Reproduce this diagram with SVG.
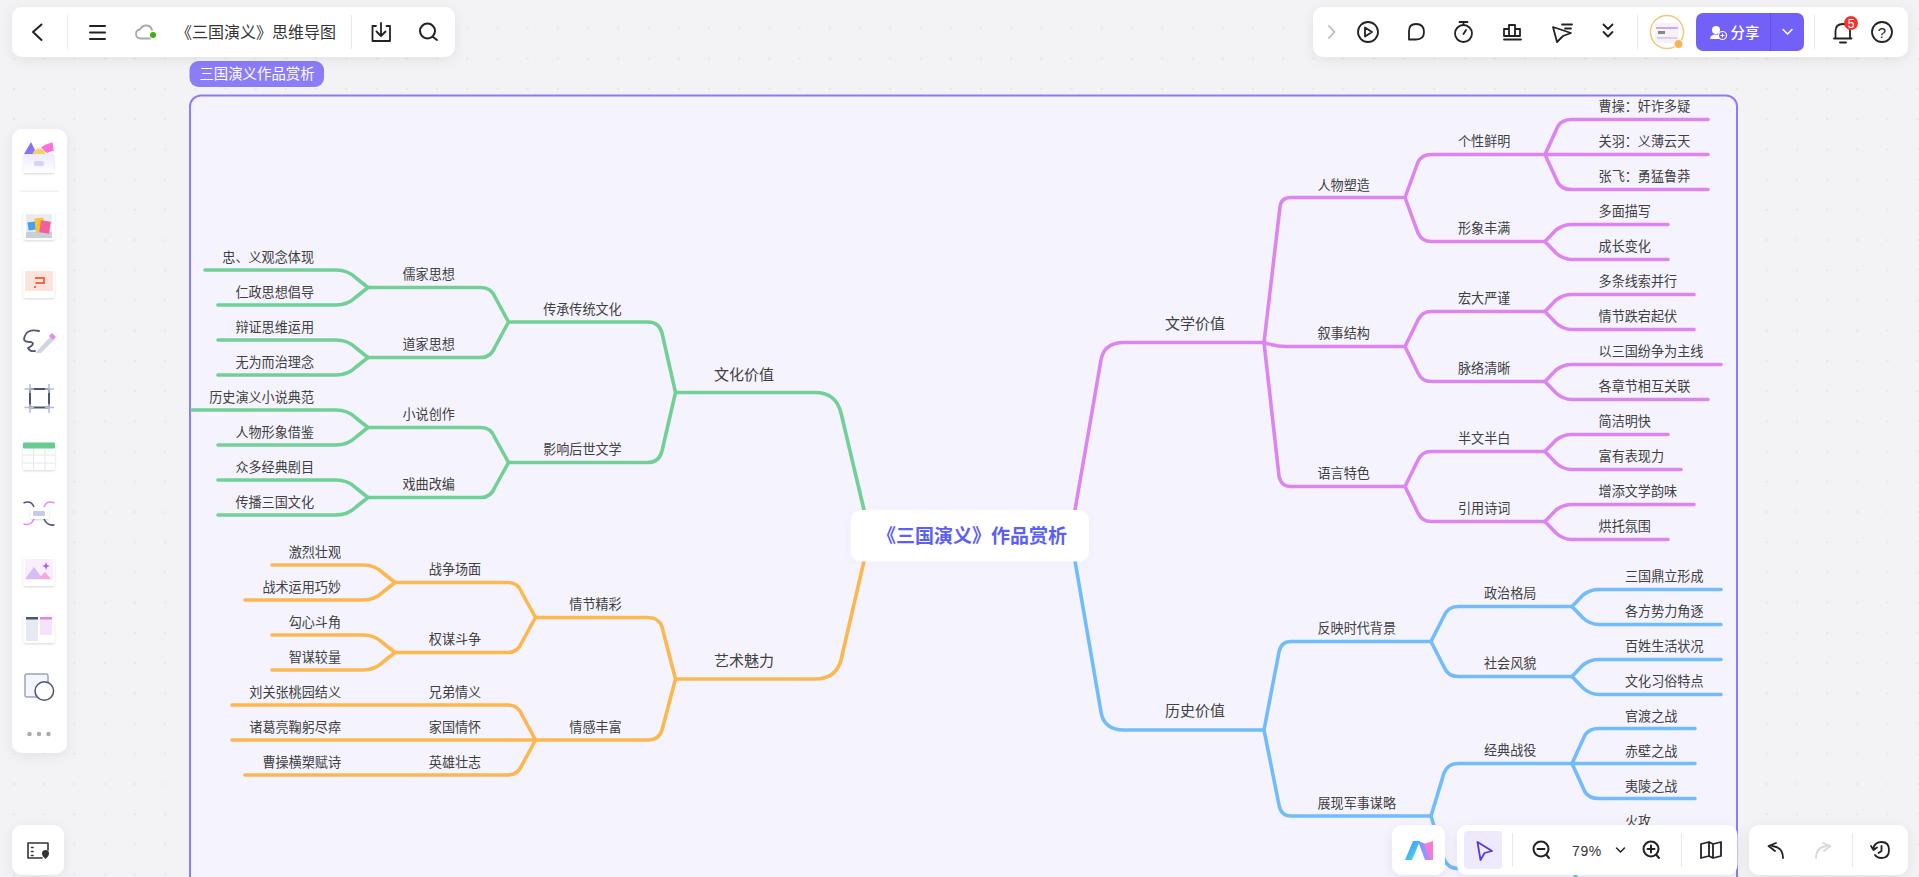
<svg xmlns="http://www.w3.org/2000/svg" width="1919" height="877" viewBox="0 0 1919 877">
<defs>
<style>
text{font-family:"Noto Sans CJK SC","Noto Sans",sans-serif;fill:#404040}
.t1{font-size:15px}
.t2{font-size:13.1px}
.m{text-anchor:middle}
.e{text-anchor:end}
.s{text-anchor:start}
.c{fill:none;stroke-width:3.6;stroke-linecap:round;stroke-linejoin:round}
.g{stroke:#72d096}
.o{stroke:#fdb74f}
.p{stroke:#dd85ee}
.b{stroke:#72bcfb}
.panel{fill:#fff;filter:url(#sh)}
.ic{fill:none;stroke:#222;stroke-width:1.8;stroke-linecap:round;stroke-linejoin:round}
.icg{fill:none;stroke:#bbb;stroke-width:1.8;stroke-linecap:round;stroke-linejoin:round}
.dv{stroke:#e8e8ec;stroke-width:1}
.card{fill:#fff;filter:url(#sh2)}
.sl{fill:none;stroke:#4d5478;stroke-linecap:round;stroke-linejoin:round}
</style>
<filter id="sh" x="-20%" y="-40%" width="140%" height="200%"><feDropShadow dx="0" dy="3" stdDeviation="6" flood-color="#000" flood-opacity="0.07"/></filter>
<filter id="sh2" x="-20%" y="-20%" width="140%" height="150%"><feDropShadow dx="0" dy="1" stdDeviation="1.2" flood-color="#000" flood-opacity="0.16"/></filter>
<filter id="sh3" x="-10%" y="-20%" width="120%" height="150%"><feDropShadow dx="0" dy="1" stdDeviation="4" flood-color="#6a60d0" flood-opacity="0.06"/></filter>
<pattern id="dots" x="13" y="27.5" width="30.22" height="30.22" patternUnits="userSpaceOnUse"><circle cx="1" cy="1" r="0.8" fill="#d8d8de"/></pattern>
<linearGradient id="box" x1="0" y1="0" x2="0" y2="1"><stop offset="0" stop-color="#ecebfd"/><stop offset="1" stop-color="#fff"/></linearGradient>
<linearGradient id="lg1" x1="0" y1="0" x2="1" y2="1"><stop offset="0" stop-color="#3a8bff"/><stop offset="1" stop-color="#4fe8d8"/></linearGradient>
<linearGradient id="lg2" x1="0" y1="0" x2="1" y2="1"><stop offset="0" stop-color="#6aa0ff"/><stop offset="1" stop-color="#b98cf8"/></linearGradient>
</defs>

<rect width="1919" height="877" fill="#f3f3f6"/>
<rect width="1919" height="877" fill="url(#dots)"/>

<g id="frame">
<rect x="190" y="95.5" width="1547" height="800" rx="11" fill="#f5f4fe" stroke="#8b7cf8" stroke-width="2"/>
<rect x="189.500" y="61" width="134.500" height="26" rx="9" fill="#8b7cf8"/>
<text x="257" y="79" class="m" style="fill:#fff;font-size:14.4px">三国演义作品赏析</text>
</g>

<g id="connectors">
<!-- green -->
<path class="c g" d="M864 510L841 413Q836 392.500 815 392.500H675.500M675.500 392.500L662 333Q659 322 648 322H508.500M675.500 392.500L662 451Q659 462.500 648 462.500H508.500"/>
<path class="c g" d="M508.500 322L495 297Q491 287.500 481 287.500H368M508.500 322L495 347Q491 357.500 481 357.500H368M508.500 462.500L495 438Q491 427.500 481 427.500H368M508.500 462.500L495 487Q491 497.500 481 497.500H368"/>
<path class="c g" d="M368 287.500L356 278Q348 270 336 270H205M368 287.500L356 297Q348 305 336 305H218M368 357.500L356 348Q348 340 336 340H218M368 357.500L356 367Q348 375 336 375H218M368 427.500L356 418Q348 410 336 410H192M368 427.500L356 437Q348 445 336 445H218M368 497.500L356 488Q348 480 336 480H218M368 497.500L356 507Q348 515 336 515H218"/>
<!-- orange -->
<path class="c o" d="M864 561L841 660Q836 679 815 679H675.500M675.500 679L662 627Q659 617.500 648 617.500H535.500M675.500 679L662 730Q659 740 648 740H535.500"/>
<path class="c o" d="M535.500 617.500L522 593Q518 582.500 508 582.500H395M535.500 617.500L522 642Q518 652.500 508 652.500H395"/>
<path class="c o" d="M395 582.500L383 573Q375 565 363 565H272M395 582.500L383 592Q375 600 363 600H245M395 652.500L383 643Q375 635 363 635H272M395 652.500L383 662Q375 670 363 670H272"/>
<path class="c o" d="M535.500 740L522 715Q518 705 508 705H232M535.500 740H232M535.500 740L522 765Q518 775 508 775H245"/>
<!-- pink -->
<path class="c p" d="M1075 510L1101 360Q1104 342.500 1124 342.500H1264M1264 342.500L1280 207Q1281 197.500 1291 197.500H1405M1264 342.500Q1276 346.500 1286 346.500H1405M1264 342.500L1279 476Q1281 486.500 1291 486.500H1405"/>
<path class="c p" d="M1405 197.500L1418 162Q1422 154.500 1431 154.500H1545M1405 197.500L1418 233Q1422 241.500 1431 241.500H1545M1405 346.500L1418 320Q1422 311.500 1431 311.500H1545M1405 346.500L1418 373Q1422 381.500 1431 381.500H1545M1405 486.500L1418 460Q1422 451.500 1431 451.500H1545M1405 486.500L1418 513Q1422 521.500 1431 521.500H1545"/>
<path class="c p" d="M1545 154.500L1558 126Q1562 119.500 1572 119.500H1708M1545 154.500H1708M1545 154.500L1558 183Q1562 189.500 1572 189.500H1708"/>
<path class="c p" d="M1545 241.500L1556 230Q1563 224.500 1572 224.500H1668M1545 241.500L1556 253Q1563 259.500 1572 259.500H1668M1545 311.500L1556 300Q1563 294.500 1572 294.500H1694M1545 311.500L1556 323Q1563 329.500 1572 329.500H1694M1545 381.500L1556 370Q1563 364.500 1572 364.500H1721M1545 381.500L1556 393Q1563 399.500 1572 399.500H1708M1545 451.500L1556 440Q1563 434.500 1572 434.500H1668M1545 451.500L1556 463Q1563 469.500 1572 469.500H1681M1545 521.500L1556 510Q1563 504.500 1572 504.500H1694M1545 521.500L1556 533Q1563 539.500 1572 539.500H1668"/>
<!-- blue -->
<path class="c b" d="M1075 561L1101 712Q1104 730 1124 730H1264M1264 730L1279 652Q1281 641.500 1291 641.500H1431M1264 730L1279 805Q1281 816 1291 816H1431"/>
<path class="c b" d="M1431 641.500L1444 616Q1448 606.500 1458 606.500H1572M1431 641.500L1444 667Q1448 676.500 1458 676.500H1572M1431 816L1444 773Q1448 763.500 1458 763.500H1572M1431 816L1444 859Q1448 868.500 1458 868.500H1572"/>
<path class="c b" d="M1572 606.500L1583 595Q1590 589.500 1599 589.500H1721M1572 606.500L1583 618Q1590 624.500 1599 624.500H1721M1572 676.500L1583 665Q1590 659.500 1599 659.500H1721M1572 676.500L1583 688Q1590 694.500 1599 694.500H1721"/>
<path class="c b" d="M1572 763.500L1585 735Q1589 728.500 1599 728.500H1695M1572 763.500H1695M1572 763.500L1585 792Q1589 798.500 1599 798.500H1695M1572 868.500L1585 840Q1589 833.500 1599 833.500H1695M1572 868.500L1585 897Q1589 903.500 1599 903.500H1695"/>
</g>

<g id="root"><rect x="850.500" y="510" width="238.500" height="51.500" rx="10.500" fill="#fff" style="filter:url(#sh3)"/><text x="972" y="543" class="m" style="fill:#5b5ff5;font-size:19px;font-weight:700">《三国演义》作品赏析</text></g>

<g id="n-wenhua"><text x="744" y="379.500" class="t1 m">文化价值</text></g>
<g id="n-yishu"><text x="744" y="665.500" class="t1 m">艺术魅力</text></g>
<g id="n-wenxue"><text x="1195" y="329" class="t1 m">文学价值</text></g>
<g id="n-lishi"><text x="1195" y="716" class="t1 m">历史价值</text></g>

<g id="n-cc"><text x="621.700" y="314" class="t2 e">传承传统文化</text></g>
<g id="n-yx"><text x="621.700" y="454" class="t2 e">影响后世文学</text></g>
<g id="n-qj"><text x="621.700" y="609" class="t2 e">情节精彩</text></g>
<g id="n-qg"><text x="621.700" y="731.500" class="t2 e">情感丰富</text></g>

<g id="n-rj"><text x="428.700" y="279" class="t2 m">儒家思想</text></g>
<g id="n-dj"><text x="428.700" y="349" class="t2 m">道家思想</text></g>
<g id="n-xs"><text x="428.700" y="419" class="t2 m">小说创作</text></g>
<g id="n-xq"><text x="428.700" y="489" class="t2 m">戏曲改编</text></g>
<g id="n-zz"><text x="455" y="574" class="t2 m">战争场面</text></g>
<g id="n-qm"><text x="455" y="644" class="t2 m">权谋斗争</text></g>
<g id="n-xd"><text x="455" y="696.500" class="t2 m">兄弟情义</text></g>
<g id="n-jg"><text x="455" y="731.500" class="t2 m">家国情怀</text></g>
<g id="n-yy"><text x="455" y="766.500" class="t2 m">英雄壮志</text></g>

<g id="l-1"><text x="314" y="261.500" class="t2 e">忠、义观念体现</text></g>
<g id="l-2"><text x="314" y="296.500" class="t2 e">仁政思想倡导</text></g>
<g id="l-3"><text x="314" y="331.500" class="t2 e">辩证思维运用</text></g>
<g id="l-4"><text x="314" y="366.500" class="t2 e">无为而治理念</text></g>
<g id="l-5"><text x="314" y="401.500" class="t2 e">历史演义小说典范</text></g>
<g id="l-6"><text x="314" y="436.500" class="t2 e">人物形象借鉴</text></g>
<g id="l-7"><text x="314" y="471.500" class="t2 e">众多经典剧目</text></g>
<g id="l-8"><text x="314" y="506.500" class="t2 e">传播三国文化</text></g>
<g id="l-9"><text x="341" y="556.500" class="t2 e">激烈壮观</text></g>
<g id="l-10"><text x="341" y="591.500" class="t2 e">战术运用巧妙</text></g>
<g id="l-11"><text x="341" y="626.500" class="t2 e">勾心斗角</text></g>
<g id="l-12"><text x="341" y="661.500" class="t2 e">智谋较量</text></g>
<g id="l-13"><text x="341" y="696.500" class="t2 e">刘关张桃园结义</text></g>
<g id="l-14"><text x="341" y="731.500" class="t2 e">诸葛亮鞠躬尽瘁</text></g>
<g id="l-15"><text x="341" y="766.500" class="t2 e">曹操横槊赋诗</text></g>

<g id="n-rw"><text x="1317.500" y="189.500" class="t2 s">人物塑造</text></g>
<g id="n-xs2"><text x="1317.500" y="338" class="t2 s">叙事结构</text></g>
<g id="n-yy2"><text x="1317.500" y="478" class="t2 s">语言特色</text></g>
<g id="n-fy"><text x="1317.500" y="633" class="t2 s">反映时代背景</text></g>
<g id="n-zx"><text x="1317.500" y="807.500" class="t2 s">展现军事谋略</text></g>

<g id="n-gx"><text x="1458" y="146" class="t2 s">个性鲜明</text></g>
<g id="n-xx"><text x="1458" y="233" class="t2 s">形象丰满</text></g>
<g id="n-hd"><text x="1458" y="303" class="t2 s">宏大严谨</text></g>
<g id="n-ml"><text x="1458" y="373" class="t2 s">脉络清晰</text></g>
<g id="n-bw"><text x="1458" y="443" class="t2 s">半文半白</text></g>
<g id="n-yh"><text x="1458" y="513" class="t2 s">引用诗词</text></g>
<g id="n-zg"><text x="1484" y="598" class="t2 s">政治格局</text></g>
<g id="n-sh"><text x="1484" y="668" class="t2 s">社会风貌</text></g>
<g id="n-jd"><text x="1484" y="755" class="t2 s">经典战役</text></g>

<g id="r-1"><text x="1598.600" y="111" class="t2 s">曹操：奸诈多疑</text></g>
<g id="r-2"><text x="1598.600" y="146" class="t2 s">关羽：义薄云天</text></g>
<g id="r-3"><text x="1598.600" y="181" class="t2 s">张飞：勇猛鲁莽</text></g>
<g id="r-4"><text x="1598.600" y="216" class="t2 s">多面描写</text></g>
<g id="r-5"><text x="1598.600" y="251" class="t2 s">成长变化</text></g>
<g id="r-6"><text x="1598.600" y="286" class="t2 s">多条线索并行</text></g>
<g id="r-7"><text x="1598.600" y="321" class="t2 s">情节跌宕起伏</text></g>
<g id="r-8"><text x="1598.600" y="356" class="t2 s">以三国纷争为主线</text></g>
<g id="r-9"><text x="1598.600" y="391" class="t2 s">各章节相互关联</text></g>
<g id="r-10"><text x="1598.600" y="426" class="t2 s">简洁明快</text></g>
<g id="r-11"><text x="1598.600" y="461" class="t2 s">富有表现力</text></g>
<g id="r-12"><text x="1598.600" y="496" class="t2 s">增添文学韵味</text></g>
<g id="r-13"><text x="1598.600" y="531" class="t2 s">烘托氛围</text></g>
<g id="r-14"><text x="1625" y="581" class="t2 s">三国鼎立形成</text></g>
<g id="r-15"><text x="1625" y="616" class="t2 s">各方势力角逐</text></g>
<g id="r-16"><text x="1625" y="651" class="t2 s">百姓生活状况</text></g>
<g id="r-17"><text x="1625" y="686" class="t2 s">文化习俗特点</text></g>
<g id="r-18"><text x="1625" y="720.500" class="t2 s">官渡之战</text></g>
<g id="r-19"><text x="1625" y="755.500" class="t2 s">赤壁之战</text></g>
<g id="r-20"><text x="1625" y="790.500" class="t2 s">夷陵之战</text></g>
<g id="r-21"><text x="1625" y="825.500" class="t2 s">火攻</text></g>

<!-- top-left toolbar -->
<g id="tb-top-left">
<rect class="panel" x="12" y="7" width="443" height="50" rx="10"/>
<path class="ic" style="stroke-width:2" d="M41.500 24.500L33 32L41.500 40"/>
<line class="dv" x1="67.500" y1="15" x2="67.500" y2="49"/>
<path class="ic" style="stroke-width:2" d="M90 26H105M90 32.500H105M90 39H105"/>
<path fill="none" stroke="#aaa" stroke-width="1.800" stroke-linecap="round" d="M150 38.500H141Q136 38.500 136 34Q136 30 140 29.500Q142 25.500 146 25.500Q151 25.500 152 30"/>
<circle cx="153" cy="35" r="3" fill="#3fb011"/>
<text x="256" y="38" class="m" style="font-size:16px;fill:#333">《三国演义》思维导图</text>
<line class="dv" x1="351.500" y1="15" x2="351.500" y2="49"/>
<path class="ic" d="M376 26H372.500V41H390V26H386.500M381 23V35.500M376.500 31.500L381 36L385.500 31.500"/>
<circle class="ic" style="stroke-width:2" cx="427.500" cy="31" r="7.500"/><path class="ic" style="stroke-width:2" d="M433 37L437 40"/>
</g>

<!-- top-right toolbar -->
<g id="tb-top-right">
<rect class="panel" x="1313" y="7" width="595" height="50" rx="10"/>
<path class="icg" d="M1329 26L1334.500 32L1329 38"/>
<circle class="ic" cx="1368" cy="32" r="10"/><path class="ic" d="M1365 27.500L1372 32L1365 36.500Z"/>
<path class="ic" d="M1409 39.500V31Q1409 24 1416 24Q1424 24 1424 32Q1424 39.500 1416 39.500Z"/>
<circle class="ic" cx="1463.500" cy="33.500" r="8.500"/><path class="ic" d="M1459.500 22H1467.500M1463.500 22V25M1463.500 34L1466 30"/>
<path class="ic" d="M1504 39.500H1521M1504 36V29H1509V36M1509 36V25H1515V36M1515 36V29H1520V36H1504"/>
<path class="ic" d="M1553 27L1571 33L1563 36L1557 42Z M1562 24.500H1572M1565 28.500H1571"/>
<path class="ic" d="M1603.500 24.500L1608 29L1612.500 24.500M1603.500 32L1608 36.500L1612.500 32"/>
<line class="dv" x1="1637.500" y1="15" x2="1637.500" y2="49"/>
<circle cx="1667" cy="32" r="16.500" fill="#fff" stroke="#f3c77a" stroke-width="1.500"/>
<rect x="1655" y="23" width="24" height="20" rx="2" fill="#f4f3f8"/><rect x="1656" y="27" width="22" height="2" fill="#cda8f0"/><rect x="1657" y="37" width="20" height="2" fill="#e2c8f5"/><rect x="1658" y="31" width="7" height="3" fill="#888"/>
<circle cx="1678.500" cy="44" r="4.500" fill="#f6b455" stroke="#fff" stroke-width="1"/>
<rect x="1696" y="13" width="108" height="38" rx="7" fill="#7260f9"/>
<line x1="1770.500" y1="13" x2="1770.500" y2="51" stroke="#6550e0"/>
<circle cx="1716" cy="30" r="4" fill="#fff"/><path d="M1710 39Q1710 34.500 1716 34.500Q1719 34.500 1720 36L1719 39Z" fill="#fff"/><circle cx="1722.500" cy="35.500" r="4" fill="#7260f9" stroke="#fff" stroke-width="1.200"/><path d="M1720.500 35.500H1724.500M1722.500 33.500V37.500" stroke="#fff" stroke-width="1"/>
<text x="1745" y="38" class="m" style="fill:#fff;font-size:14.400px;font-weight:500">分享</text>
<path d="M1783 29.500L1787.500 34L1792 29.500" fill="none" stroke="#fff" stroke-width="1.600" stroke-linecap="round" stroke-linejoin="round"/>
<line class="dv" x1="1814.500" y1="15" x2="1814.500" y2="49"/>
<path class="ic" d="M1835.500 38V31Q1835.500 24 1843 24Q1850 24 1850 31V38M1834 38.500H1851.500M1840 42.500H1846"/>
<circle cx="1851" cy="23" r="7" fill="#f0352f"/>
<text x="1851" y="27.500" class="m" style="fill:#fff;font-size:12px;font-family:'Liberation Sans',sans-serif">5</text>
<circle class="ic" cx="1882" cy="32" r="10"/>
<text x="1882" y="37.500" class="m" style="font-size:15px;fill:#222;font-family:'Liberation Sans',sans-serif">?</text>
</g>

<!-- left toolbar -->
<g id="tb-left">
<rect class="panel" x="12" y="129" width="55" height="624" rx="10"/>
<g id="ic-box">
<path d="M24 154L31 142L37 154Z" fill="#8a72f5"/><path d="M45 145L52 142L54 150L47 153L41 148Z" fill="#ff6fd8" transform="rotate(5 48 148)"/><circle cx="39" cy="155" r="6.500" fill="#fbcf6a"/>
<rect class="card" x="23.500" y="154" width="30.500" height="19" rx="1.500" style="fill:url(#box)"/><rect x="34" y="161" width="10" height="5" rx="2" fill="#d6d4f5"/>
</g>
<line class="dv" x1="20" y1="191" x2="59" y2="191"/>
<g id="ic-cards"><rect class="card" x="23.500" y="211" width="31" height="29" rx="2"/><rect x="26" y="214" width="26" height="24" fill="#e9ebf3"/><rect x="26" y="232" width="26" height="6" fill="#c9cedd"/><rect x="28" y="222" width="9" height="8" fill="#3fa2f5" transform="rotate(-8 32 226)"/><rect x="35" y="218" width="9" height="14" fill="#fbc430" transform="rotate(-6 40 224)"/><rect x="40" y="221" width="10" height="12" fill="#f0609a" transform="rotate(8 45 227)"/></g>
<g id="ic-ppt"><rect class="card" x="23.500" y="269" width="31" height="29" rx="2"/><rect x="25" y="271" width="28" height="20" fill="#fde3de"/><path d="M35 278H44V283H35.500M35 288V286" fill="none" stroke="#f56a3c" stroke-width="2"/></g>
<g id="ic-pen"><path class="sl" style="stroke-width:1.800" d="M39 331Q26 328 24 339Q24 342 31 342Q36 344 28 348Q30 352 35 351"/><path d="M38 350L52 335L55 339L41 353L36 353Z" fill="#cfd3e2"/><path d="M49 336L52 333L56 337L53 340Z" fill="#e58bf0"/></g>
<g id="ic-frame"><rect x="30" y="389" width="19" height="18.500" fill="none" stroke="#4d5478" stroke-width="2"/><path d="M30 384V393M49 384V393M30 404V413M49 404V413M24.500 389H34M45 389H54M24.500 407.500H34M45 407.500H54" stroke="#b6bbcf" stroke-width="1.500"/></g>
<g id="ic-table"><rect class="card" x="23" y="442.500" width="32" height="27.500" rx="2"/><rect x="23" y="442.500" width="32" height="6" rx="1" fill="#66cc92"/><path d="M23 455H55M23 463H55M33.500 449V470M45 449V470" stroke="#e4e6ee" stroke-width="1"/></g>
<g id="ic-conn"><path d="M23.500 503Q31 500 34 507" fill="none" stroke="#4d5478" stroke-width="1.500"/><path d="M23.500 524Q31 526 34 519" fill="none" stroke="#e58bf0" stroke-width="1.500"/><path d="M54.500 503Q47 500 44 507" fill="none" stroke="#e58bf0" stroke-width="1.500"/><path d="M54.500 525Q47 526 44 519" fill="none" stroke="#4d5478" stroke-width="1.500"/><rect class="card" x="30" y="508" width="19" height="11" rx="2"/><rect x="33" y="511" width="12" height="5" rx="1" fill="#c9cce0"/></g>
<g id="ic-img"><rect class="card" x="23.500" y="557" width="31" height="29" rx="2"/><rect x="25" y="559" width="28" height="21" fill="#f8eefc"/><path d="M25 579L34 567L43 579Z" fill="#d3bef6"/><path d="M38 579L45 572L51 579Z" fill="#f6a8d8"/><path d="M46 562L47 565L50 566L47 567L46 570L45 567L42 566L45 565Z" fill="#a55bf0"/></g>
<g id="ic-layout"><rect class="card" x="23.500" y="614" width="31" height="29" rx="2"/><rect x="26" y="617" width="12" height="24" fill="#e6e9f1"/><rect x="26" y="617" width="12" height="2.500" fill="#4d5478"/><rect x="40" y="617" width="12" height="18" fill="#f8e2fb"/><rect x="40" y="617" width="12" height="2.500" fill="#dd85ee"/></g>
<g id="ic-shape"><rect x="25" y="674" width="23" height="23" rx="2" fill="#f4f6fb" stroke="#9aa3c4" stroke-width="1.500"/><circle cx="44.300" cy="691" r="9.300" fill="#fff" stroke="#4d5478" stroke-width="1.500"/></g>
<circle cx="29.500" cy="734" r="2.200" fill="#aaa"/><circle cx="39" cy="734" r="2.200" fill="#aaa"/><circle cx="48.500" cy="734" r="2.200" fill="#aaa"/>
</g>

<g id="tb-bottom-left">
<rect class="panel" x="12" y="825" width="52" height="50" rx="10"/>
<path fill="none" stroke="#333" stroke-width="1.600" stroke-linecap="round" stroke-linejoin="round" d="M42 858H28V843H48V850M31.500 847.500H33M31.500 851.500H33M31.500 855.500H33"/>
<path d="M45.500 850Q49 850 49 853.500Q49 856 45.500 859Q42 856 42 853.500Q42 850 45.500 850Z" fill="#333"/>
</g>

<g id="tb-bottom-logo">
<rect class="panel" x="1392" y="825" width="53" height="50" rx="10"/>
<path d="M1405 860L1413 841H1420L1412 860Z" fill="url(#lg1)"/><path d="M1418 841L1425 860H1431V846Z" fill="url(#lg2)"/><path d="M1424 844L1433 841V860H1431Z" fill="#ff78d0"/>
</g>

<g id="tb-bottom-zoom">
<rect class="panel" x="1457" y="825" width="280.500" height="50" rx="10"/>
<rect x="1464" y="831" width="38" height="38" rx="4" fill="#efe9fc"/>
<path d="M1477.500 842L1492 851L1484.500 853L1480.500 860Z" fill="none" stroke="#5a38e0" stroke-width="1.800" stroke-linejoin="round"/>
<line class="dv" x1="1512.500" y1="833" x2="1512.500" y2="867"/>
<circle class="ic" style="stroke-width:2" cx="1541" cy="849" r="7.500"/><path class="ic" style="stroke-width:2" d="M1537.500 849H1544.500M1546.500 855L1549 858"/>
<text x="1587" y="856" class="m" style="font-size:14px;fill:#333;font-family:'Liberation Sans',sans-serif;letter-spacing:.6px">79%</text>
<path class="ic" style="stroke-width:1.500" d="M1616.500 848L1620.500 852L1624.500 848"/>
<circle class="ic" style="stroke-width:2" cx="1651" cy="849" r="7.500"/><path class="ic" style="stroke-width:2" d="M1647.500 849H1654.500M1651 845.500V852.500M1656.500 855L1659 858"/>
<line class="dv" x1="1681.500" y1="833" x2="1681.500" y2="867"/>
<path class="ic" d="M1701 844L1709 842L1713 844L1721 842V856L1713 858L1709 856L1701 858ZM1709 842V856M1713 844V858"/>
</g>

<g id="tb-bottom-undo">
<rect class="panel" x="1749" y="825" width="159" height="50" rx="10"/>
<path class="ic" d="M1783 858Q1783 847 1772 846M1776 843L1768.500 846L1775 851"/>
<path class="ic" style="stroke:#d8d8d8" d="M1816 858Q1816 847 1827 846M1823 843L1830.500 846L1824 851"/>
<line class="dv" x1="1852.500" y1="833" x2="1852.500" y2="867"/>
<path class="ic" d="M1873.500 848Q1875 842 1881.500 842Q1889 842 1889 850Q1889 858 1881.500 858Q1877 858 1875 855M1871 846L1873.500 850L1877 847.500M1881.500 846V851L1878.500 853"/>
</g>
</svg>
